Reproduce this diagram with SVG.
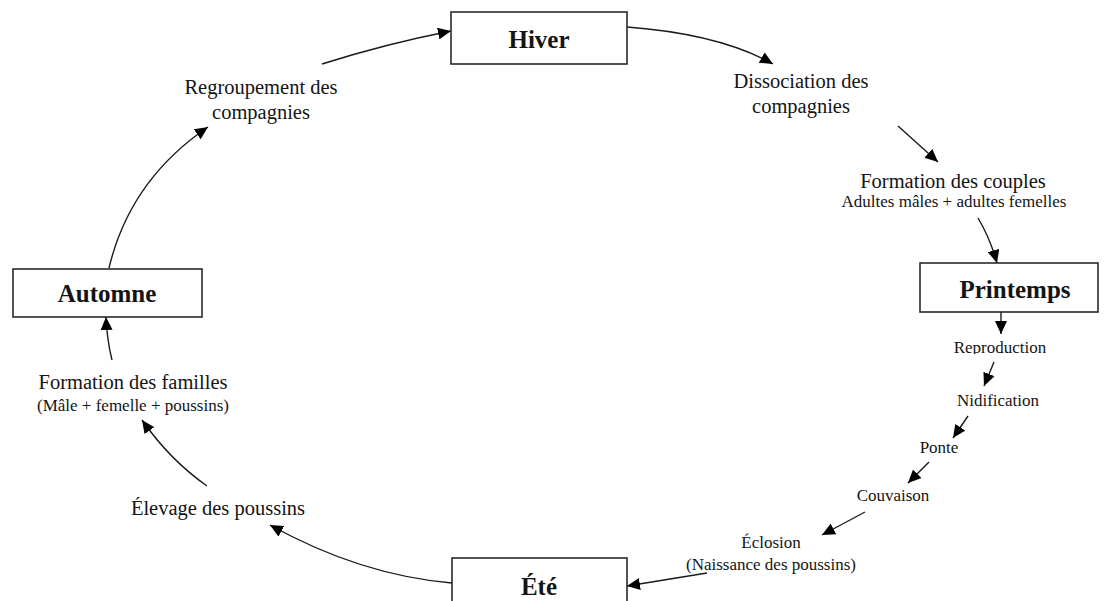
<svg xmlns="http://www.w3.org/2000/svg" width="1104" height="601" viewBox="0 0 1104 601">
<style>
.box{fill:#fff;stroke:#2a2a2a;stroke-width:1.6}
.t{font-family:"Liberation Serif","Times New Roman",serif;fill:#141414;text-anchor:middle}
.b{font-weight:bold;font-size:25px}
.m{font-size:20.5px}
.s{font-size:17px}
.c{fill:none;stroke:#1a1a1a;stroke-width:1.4;marker-end:url(#ah)}
</style>
<defs>
<marker id="ah" markerUnits="userSpaceOnUse" markerWidth="14" markerHeight="12" refX="13" refY="6" orient="auto">
<path d="M0,0 L13,6 L0,12 Z" fill="#000"/>
</marker>
<clipPath id="k1"><rect x="900" y="330" width="200" height="24"/></clipPath>
<clipPath id="k2"><rect x="900" y="385" width="200" height="22"/></clipPath>
<clipPath id="k3"><rect x="880" y="435" width="120" height="19"/></clipPath>
<clipPath id="k4"><rect x="820" y="480" width="160" height="22"/></clipPath>
</defs>
<g id="connectors">
<path class="c" d="M322,64 Q385,44 451,31"/>
<path class="c" d="M627,27 Q720,34 773,64"/>
<path class="c" d="M898,126 L938,162"/>
<path class="c" d="M978,218 Q990,238 997,263"/>
<path class="c" d="M1001,312 L1001,334"/>
<path class="c" d="M994,362 L984,386"/>
<path class="c" d="M968,416 L953,438"/>
<path class="c" d="M929,462 L908,483"/>
<path class="c" d="M865,512 L822,535"/>
<path class="c" d="M707,573 Q665,580 627,586"/>
<path class="c" d="M452,583 Q360,575 270,525"/>
<path class="c" d="M207,486 Q170,460 142,420"/>
<path class="c" d="M112,360 Q107,340 106,317"/>
<path class="c" d="M109,268 Q130,180 208,127"/>
</g>
<g id="hiver"><rect class="box" x="451" y="12" width="176" height="52"/><text class="t b" x="539" y="48">Hiver</text></g>
<g id="printemps"><rect class="box" x="920" y="263" width="178" height="49"/><text class="t b" x="1015" y="298">Printemps</text></g>
<g id="ete"><rect class="box" x="452" y="558" width="175" height="60"/><text class="t b" x="539" y="595">Été</text></g>
<g id="automne"><rect class="box" x="13" y="269" width="189" height="48"/><text class="t b" x="107" y="302">Automne</text></g>
<g id="dissociation"><text class="t m" x="801" y="88">Dissociation des</text><text class="t m" x="801" y="113">compagnies</text></g>
<g id="couples"><text class="t m" x="953" y="188">Formation des couples</text><text class="t s" x="954" y="207">Adultes mâles + adultes femelles</text></g>
<g id="reproduction"><text class="t s" x="1000" y="353" clip-path="url(#k1)">Reproduction</text></g>
<g id="nidification"><text class="t s" x="998" y="406" clip-path="url(#k2)">Nidification</text></g>
<g id="ponte"><text class="t s" x="939" y="453" clip-path="url(#k3)">Ponte</text></g>
<g id="couvaison"><text class="t s" x="893" y="501" clip-path="url(#k4)">Couvaison</text></g>
<g id="eclosion"><text class="t s" x="771" y="548">Éclosion</text><text class="t s" x="771" y="570">(Naissance des poussins)</text></g>
<g id="elevage"><text class="t m" x="218" y="515">Élevage des poussins</text></g>
<g id="familles"><text class="t m" x="133" y="389">Formation des familles</text><text class="t s" x="133" y="411">(Mâle + femelle + poussins)</text></g>
<g id="regroupement"><text class="t m" x="261" y="94">Regroupement des</text><text class="t m" x="261" y="119">compagnies</text></g>
</svg>
